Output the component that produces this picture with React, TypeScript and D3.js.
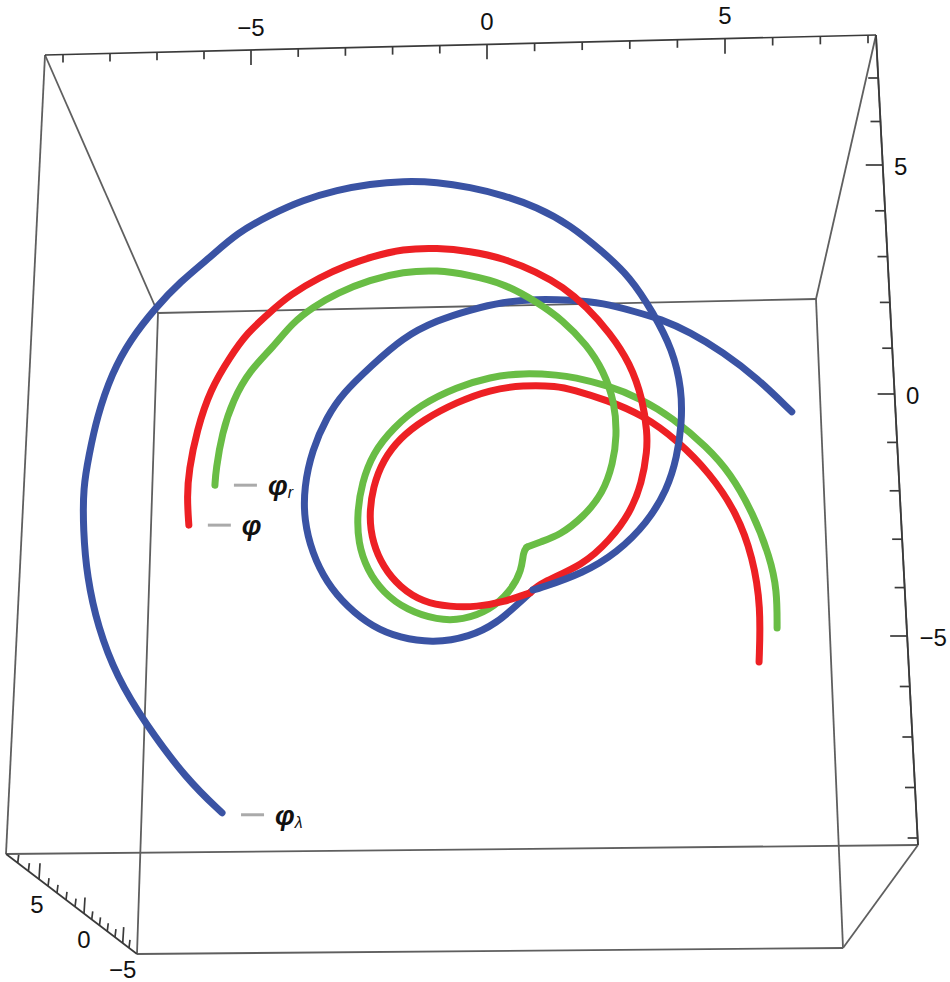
import React, { useRef, useEffect } from "react";
import * as d3 from "d3";

type Pt = [number, number];

// curves are split at the cusp so the overlaps can be painted in the right order
const blueOuter: Pt[] = [
  [-5.59, -8.91], [-6.33, -8.21], [-7.22, -7.0], [-7.81, -6.02], [-8.21, -4.96], [-8.44, -3.89], [-8.52, -2.89],
  [-8.52, -1.98], [-8.4, -1.32], [-8.23, -0.49], [-7.91, 0.45], [-7.53, 1.15], [-6.98, 1.85], [-6.48, 2.38],
  [-5.84, 2.91], [-5.27, 3.43], [-4.58, 3.81], [-3.88, 4.13], [-3.16, 4.34], [-2.47, 4.47], [-1.77, 4.53],
  [-1.05, 4.51], [-0.36, 4.4], [0.34, 4.23], [1.05, 3.98], [1.75, 3.6], [2.45, 3.02], [3.02, 2.49], [3.5, 1.74],
  [3.92, 0.94], [4.11, 0.09], [4.11, -0.62], [4.01, -1.34], [3.8, -2.04], [3.38, -2.74], [2.74, -3.38],
  [2.03, -3.81], [1.12, -4.13], [0.97, -4.17],
];
const blueInner: Pt[] = [
  [0.97, -4.17], [0.63, -4.49], [0.21, -4.87], [-0.36, -5.17], [-1.14, -5.3], [-1.84, -5.19], [-2.41, -4.96],
  [-2.95, -4.53], [-3.38, -4.02], [-3.69, -3.38], [-3.86, -2.68], [-3.86, -1.98], [-3.69, -1.19], [-3.38, -0.49],
  [-3.04, 0.02], [-2.47, 0.57], [-1.77, 1.21], [-1.05, 1.57], [-0.36, 1.79], [0.34, 1.96], [1.05, 2.02],
  [1.75, 2.0], [2.45, 1.94], [3.16, 1.74], [3.65, 1.6], [4.28, 1.32], [4.98, 0.89], [5.7, 0.34], [6.43, -0.38],
];
const redOuter: Pt[] = [
  [-6.29, -2.79], [-6.33, -2.19], [-6.29, -1.62], [-6.12, -0.77], [-5.84, 0.09], [-5.42, 0.79], [-5.06, 1.3],
  [-4.58, 1.74], [-4.16, 2.11], [-3.52, 2.49], [-2.95, 2.74], [-2.47, 2.91], [-1.77, 3.09], [-1.05, 3.11],
  [-0.36, 3.04], [0.34, 2.89], [1.05, 2.6], [1.6, 2.28], [2.11, 1.85], [2.59, 1.3], [3.02, 0.66], [3.29, -0.13],
  [3.38, -0.83], [3.38, -1.19], [3.27, -1.89], [3.02, -2.53], [2.59, -3.11], [2.03, -3.64], [1.12, -4.02],
  [0.91, -4.23],
];
const redInner: Pt[] = [
  [0.91, -4.23], [0.34, -4.43], [-0.21, -4.53], [-0.78, -4.53], [-1.35, -4.43], [-1.84, -4.11], [-2.19, -3.68],
  [-2.41, -3.17], [-2.49, -2.62], [-2.41, -1.98], [-2.19, -1.4], [-1.84, -0.94], [-1.35, -0.55], [-0.63, -0.17],
  [0.06, 0.09], [0.76, 0.19], [1.48, 0.17], [1.81, 0.09], [2.53, -0.13], [3.29, -0.45], [4.01, -0.98],
  [4.7, -1.68], [5.27, -2.53], [5.61, -3.47], [5.78, -4.53], [5.74, -5.7],
];
const greenOuter: Pt[] = [
  [-5.74, -1.94], [-5.72, -1.62], [-5.59, -0.83], [-5.36, -0.13], [-5.0, 0.51], [-4.51, 1.0], [-4.11, 1.51],
  [-3.67, 1.85], [-3.16, 2.15], [-2.47, 2.43], [-1.77, 2.6], [-1.05, 2.64], [-0.36, 2.53], [0.34, 2.36],
  [1.05, 1.96], [1.6, 1.57], [2.11, 1.04], [2.45, 0.51], [2.7, -0.19], [2.74, -0.91], [2.66, -1.47],
  [2.45, -2.11], [2.03, -2.62], [1.54, -3.0], [1.12, -3.15], [0.84, -3.26],
];
const greenInner: Pt[] = [
  [0.84, -3.26], [0.76, -3.36], [0.74, -3.74], [0.49, -4.21], [0.06, -4.6], [-0.51, -4.81], [-1.05, -4.81],
  [-1.69, -4.6], [-2.19, -4.23], [-2.53, -3.74], [-2.72, -3.17], [-2.74, -2.53], [-2.64, -1.89], [-2.41, -1.26],
  [-1.98, -0.72], [-1.41, -0.23], [-0.63, 0.15], [0.06, 0.36], [0.76, 0.45], [1.54, 0.4], [1.81, 0.36],
  [2.53, 0.19], [3.23, -0.09], [3.92, -0.51], [4.64, -1.13], [5.13, -1.68], [5.61, -2.53], [5.97, -3.47],
  [6.12, -4.17], [6.12, -4.98],
];

const topTicks = d3.range(-9, 9);
const rightTicks = d3.range(-9, 8);
const depthTicks = d3.range(-6, 8);
const majorTicks = [-5, 0, 5];

const BLUE = "#3a53a4";
const RED = "#ed2024";
const GREEN = "#69bd45";

const App = () => {
  const svgCanvas = useRef<SVGSVGElement>(null);

  function buildChart() {
    const root = d3.select(svgCanvas.current);
    root.selectAll("*").remove();

    const xPlot = d3.scaleLinear().domain([-5, 5]).range([250, 724]);
    const yPlot = d3.scaleLinear().domain([-5, 5]).range([629, 159]);
    // the axes sit on the near face of the box, spacing is a bit uneven from the perspective
    const xTop = d3.scaleLinear().domain([-9, -5, 0, 5, 8]).range([63, 251, 487, 725, 868]);
    const yRight = d3.scaleLinear().domain([-9, -5, 0, 5, 7]).range([838, 636, 394, 165, 78]);
    const xDepth = d3.scaleLinear().domain([-6, -5, 0, 5, 7]).range([129, 122.7, 84, 39, 17.7]);

    const a: Pt = [45, 55];
    const b: Pt = [876, 35];
    const c: Pt = [918, 845];
    const d: Pt = [6, 854];
    const e: Pt = [158, 313];
    const f: Pt = [816, 299];
    const g: Pt = [843, 948];
    const h: Pt = [137, 954];

    const frame = root.append("g").attr("fill", "none").attr("stroke", "#5f5f5f").attr("stroke-width", 1.8);
    const segments: [Pt, Pt][] = [
      [a, d], [d, c], [c, b], [e, f], [f, g], [g, h], [h, e], [a, e], [b, f], [c, g],
    ];
    segments.forEach(([p, q]) => {
      frame.append("line").attr("x1", p[0]).attr("y1", p[1]).attr("x2", q[0]).attr("y2", q[1]);
    });

    const axes = root.append("g").attr("stroke", "#3a3a3a").attr("stroke-width", 1.7);
    axes.append("line").attr("x1", a[0]).attr("y1", a[1]).attr("x2", b[0]).attr("y2", b[1]);
    axes.append("line").attr("x1", b[0]).attr("y1", b[1]).attr("x2", c[0]).attr("y2", c[1]);
    axes.append("line").attr("x1", d[0]).attr("y1", d[1]).attr("x2", h[0]).attr("y2", h[1]);

    const topEdge = d3.scaleLinear().domain([a[0], b[0]]).range([a[1], b[1]]);
    const rightEdge = d3.scaleLinear().domain([b[1], c[1]]).range([b[0], c[0]]);
    const depthEdge = d3.scaleLinear().domain([d[0], h[0]]).range([d[1], h[1]]);

    axes
      .selectAll(".topTick")
      .data(topTicks)
      .enter()
      .append("line")
      .attr("x1", (v) => xTop(v))
      .attr("y1", (v) => topEdge(xTop(v)))
      .attr("x2", (v) => xTop(v))
      .attr("y2", (v) => topEdge(xTop(v)) + (majorTicks.includes(v) ? 15 : 8));

    axes
      .selectAll(".rightTick")
      .data(rightTicks)
      .enter()
      .append("line")
      .attr("x1", (v) => rightEdge(yRight(v)))
      .attr("y1", (v) => yRight(v))
      .attr("x2", (v) => rightEdge(yRight(v)) - (majorTicks.includes(v) ? 17 : 10))
      .attr("y2", (v) => yRight(v));

    axes
      .selectAll(".depthTick")
      .data(depthTicks)
      .enter()
      .append("line")
      .attr("x1", (v) => xDepth(v))
      .attr("y1", (v) => depthEdge(xDepth(v)))
      .attr("x2", (v) => xDepth(v) + 1)
      .attr("y2", (v) => depthEdge(xDepth(v)) - (majorTicks.includes(v) ? 16 : 8));

    const tickText = root
      .append("g")
      .attr("font-family", "'Liberation Sans'")
      .attr("font-size", 24)
      .attr("fill", "#111")
      .attr("text-anchor", "middle")
      .attr("dominant-baseline", "central");
    const fmt = (v: number) => (v < 0 ? `\u2212${-v}` : `${v}`);
    majorTicks.forEach((v) => {
      tickText.append("text").attr("x", xTop(v)).attr("y", topEdge(xTop(v)) - 23).text(fmt(v));
      tickText
        .append("text")
        .attr("x", rightEdge(yRight(v)) + (v < 0 ? 26 : 18))
        .attr("y", yRight(v) + 1)
        .text(fmt(v));
    });
    const depthOffset: Record<number, Pt> = { "-5": [0, 26], 0: [0, 26], 5: [-2, 25] };
    majorTicks.forEach((v) => {
      const [ox, oy] = depthOffset[v];
      tickText
        .append("text")
        .attr("x", xDepth(v) + ox)
        .attr("y", depthEdge(xDepth(v)) + oy)
        .text(fmt(v));
    });

    const line = d3
      .line<Pt>()
      .x((p) => xPlot(p[0]))
      .y((p) => yPlot(p[1]))
      .curve(d3.curveBasis);

    const curves: [Pt[], string][] = [
      [blueInner, BLUE],
      [greenInner, GREEN],
      [redInner, RED],
      [greenOuter, GREEN],
      [redOuter, RED],
      [blueOuter, BLUE],
    ];
    root
      .append("g")
      .attr("fill", "none")
      .attr("stroke-width", 7)
      .attr("stroke-linecap", "round")
      .attr("stroke-linejoin", "round")
      .selectAll("path")
      .data(curves)
      .enter()
      .append("path")
      .attr("stroke", (s) => s[1])
      .attr("d", (s) => line(s[0]));

    const labels: { start: Pt; sub: string; dy: number }[] = [
      { start: greenOuter[0], sub: "r", dy: 0 },
      { start: redOuter[0], sub: "", dy: 0 },
      { start: blueOuter[0], sub: "\u03bb", dy: 2 },
    ];
    labels.forEach((l) => {
      const x0 = xPlot(l.start[0]) + 19;
      const y0 = yPlot(l.start[1]) + l.dy;
      root
        .append("line")
        .attr("x1", x0)
        .attr("y1", y0)
        .attr("x2", x0 + 23)
        .attr("y2", y0)
        .attr("stroke", "#aaa")
        .attr("stroke-width", 3);
      const t = root
        .append("text")
        .attr("x", x0 + 34)
        .attr("y", y0 + 10)
        .attr("font-family", "'Liberation Sans'")
        .attr("font-style", "italic")
        .attr("font-weight", "bold")
        .attr("font-size", 28)
        .attr("fill", "#111")
        .text("\u03c6");
      if (l.sub) {
        t.append("tspan")
          .attr("font-size", 16)
          .attr("font-weight", "normal")
          .attr("dy", 3)
          .text(l.sub);
      }
    });
  }

  useEffect(buildChart, []);

  return (
    <svg
      ref={svgCanvas}
      width={950}
      height={982}
      style={{ position: "absolute", left: 0, top: 0, background: "#fff" }}
    />
  );
};

export default App;
